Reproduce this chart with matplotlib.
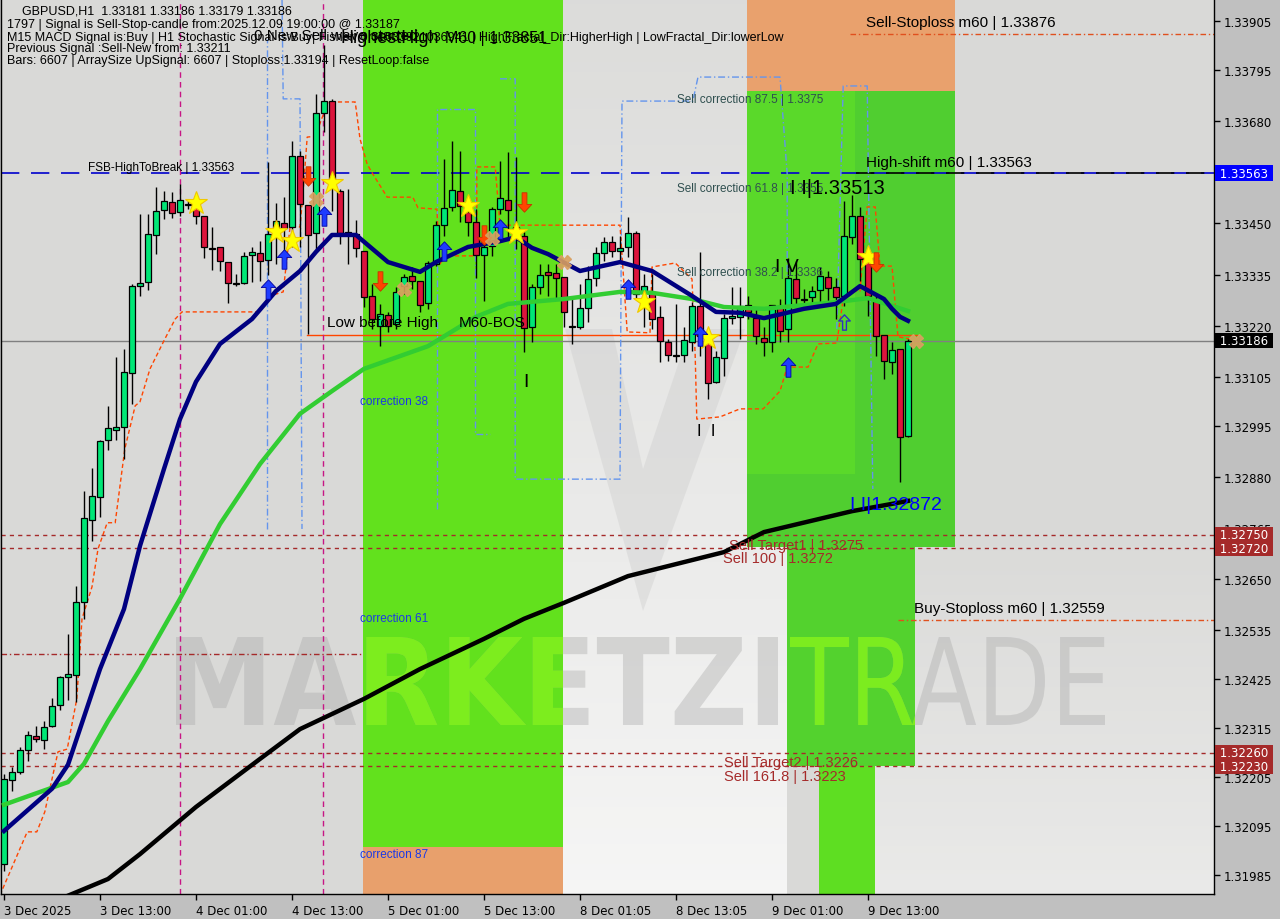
import matplotlib
matplotlib.use("Agg")
import matplotlib.pyplot as plt
import matplotlib.transforms as mtransforms
import numpy as np
from matplotlib.patches import Rectangle, PathPatch, Polygon
from matplotlib.path import Path
from matplotlib.textpath import TextPath
from matplotlib.font_manager import FontProperties

# ---------------- data (GBPUSD H1) ----------------
opens = [
    1.32010, 1.32199, 1.32217, 1.32266, 1.32298, 1.32289, 1.32320, 1.32367, 1.32430, 1.32435,
    1.32599, 1.32783, 1.32835, 1.32963, 1.32986, 1.32992, 1.33114, 1.33309, 1.33318, 1.33424,
    1.33480, 1.33498, 1.33476, 1.33494, 1.33487, 1.33467, 1.33395, 1.33397, 1.33363, 1.33314,
    1.33316, 1.33379, 1.33383, 1.33368, 1.33431, 1.33451, 1.33442, 1.33602, 1.33491, 1.33428,
    1.33698, 1.33725, 1.33523, 1.33431, 1.33426, 1.33388, 1.33287, 1.33219, 1.33244, 1.33224,
    1.33309, 1.33332, 1.33321, 1.33271, 1.33359, 1.33446, 1.33487, 1.33523, 1.33476, 1.33453,
    1.33379, 1.33399, 1.33482, 1.33503, 1.33442, 1.33422, 1.33217, 1.33307, 1.33341, 1.33338,
    1.33330, 1.33217, 1.33217, 1.33260, 1.33327, 1.33383, 1.33408, 1.33388, 1.33397, 1.33428,
    1.33298, 1.33294, 1.33240, 1.33183, 1.33152, 1.33154, 1.33183, 1.33264, 1.33190, 1.33094,
    1.33147, 1.33237, 1.33240, 1.33267, 1.33237, 1.33192, 1.33183, 1.33264, 1.33213, 1.33325,
    1.33278, 1.33285, 1.33300, 1.33330, 1.33307, 1.33287, 1.33419, 1.33467, 1.33370, 1.33276,
    1.33199, 1.33138, 1.33168, 1.32972]
highs = [
    1.32212, 1.32228, 1.32273, 1.32309, 1.32320, 1.32331, 1.32383, 1.32433, 1.32527, 1.32635,
    1.32848, 1.32900, 1.32963, 1.33040, 1.33150, 1.33168, 1.33314, 1.33471, 1.33471, 1.33532,
    1.33523, 1.33521, 1.33539, 1.33500, 1.33500, 1.33467, 1.33442, 1.33397, 1.33363, 1.33336,
    1.33386, 1.33397, 1.33410, 1.33588, 1.33496, 1.33509, 1.33635, 1.33613, 1.33491, 1.33741,
    1.33851, 1.33730, 1.33527, 1.33527, 1.33458, 1.33388, 1.33314, 1.33269, 1.33251, 1.33307,
    1.33336, 1.33352, 1.33321, 1.33365, 1.33455, 1.33595, 1.33635, 1.33613, 1.33498, 1.33482,
    1.33415, 1.33487, 1.33590, 1.33610, 1.33600, 1.33431, 1.33314, 1.33359, 1.33359, 1.33359,
    1.33330, 1.33280, 1.33314, 1.33354, 1.33397, 1.33419, 1.33422, 1.33422, 1.33464, 1.33433,
    1.33336, 1.33336, 1.33264, 1.33190, 1.33269, 1.33217, 1.33273, 1.33386, 1.33206, 1.33163,
    1.33246, 1.33307, 1.33307, 1.33287, 1.33258, 1.33217, 1.33267, 1.33280, 1.33372, 1.33365,
    1.33303, 1.33309, 1.33352, 1.33343, 1.33327, 1.33500, 1.33513, 1.33487, 1.33377, 1.33287,
    1.33199, 1.33183, 1.33168, 1.33190]
lows = [
    1.31994, 1.32174, 1.32212, 1.32242, 1.32284, 1.32268, 1.32318, 1.32356, 1.32379, 1.32374,
    1.32561, 1.32736, 1.32790, 1.32941, 1.32963, 1.32920, 1.33044, 1.33287, 1.33300, 1.33381,
    1.33460, 1.33462, 1.33467, 1.33482, 1.33449, 1.33372, 1.33345, 1.33343, 1.33271, 1.33309,
    1.33314, 1.33318, 1.33321, 1.33334, 1.33359, 1.33386, 1.33397, 1.33397, 1.33201, 1.33392,
    1.33656, 1.33478, 1.33404, 1.33359, 1.33374, 1.33262, 1.33213, 1.33174, 1.33206, 1.33213,
    1.33291, 1.33303, 1.33251, 1.33258, 1.33354, 1.33422, 1.33478, 1.33453, 1.33422, 1.33327,
    1.33276, 1.33377, 1.33471, 1.33415, 1.33392, 1.33161, 1.33183, 1.33291, 1.33287, 1.33280,
    1.33217, 1.33179, 1.33213, 1.33228, 1.33309, 1.33365, 1.33374, 1.33365, 1.33374, 1.33280,
    1.33217, 1.33213, 1.33138, 1.33141, 1.33138, 1.33138, 1.33163, 1.33152, 1.33055, 1.33091,
    1.33107, 1.33224, 1.33190, 1.33235, 1.33179, 1.33152, 1.33161, 1.33183, 1.33183, 1.33264,
    1.33264, 1.33264, 1.33264, 1.33264, 1.33235, 1.33264, 1.33404, 1.33321, 1.33242, 1.33152,
    1.33100, 1.33112, 1.32869, 1.32970]
closes = [
    1.32201, 1.32217, 1.32266, 1.32300, 1.32291, 1.32318, 1.32365, 1.32430, 1.32437, 1.32599,
    1.32788, 1.32837, 1.32961, 1.32990, 1.32992, 1.33116, 1.33309, 1.33316, 1.33426, 1.33478,
    1.33500, 1.33473, 1.33503, 1.33491, 1.33467, 1.33397, 1.33392, 1.33365, 1.33316, 1.33316,
    1.33377, 1.33386, 1.33365, 1.33426, 1.33455, 1.33440, 1.33602, 1.33494, 1.33424, 1.33698,
    1.33725, 1.33550, 1.33428, 1.33424, 1.33395, 1.33285, 1.33235, 1.33246, 1.33219, 1.33296,
    1.33330, 1.33321, 1.33267, 1.33361, 1.33446, 1.33485, 1.33525, 1.33489, 1.33453, 1.33379,
    1.33397, 1.33482, 1.33507, 1.33480, 1.33424, 1.33215, 1.33307, 1.33334, 1.33334, 1.33327,
    1.33251, 1.33219, 1.33260, 1.33325, 1.33383, 1.33408, 1.33388, 1.33395, 1.33428, 1.33291,
    1.33309, 1.33235, 1.33186, 1.33154, 1.33154, 1.33188, 1.33264, 1.33197, 1.33091, 1.33150,
    1.33237, 1.33242, 1.33264, 1.33251, 1.33197, 1.33183, 1.33267, 1.33208, 1.33327, 1.33282,
    1.33280, 1.33298, 1.33332, 1.33305, 1.33285, 1.33422, 1.33467, 1.33370, 1.33287, 1.33197,
    1.33141, 1.33165, 1.32970, 1.33186]

x_ticks = [0, 12, 24, 36, 48, 60, 72, 84, 96, 108]
x_labels = ["3 Dec 2025", "3 Dec 13:00", "4 Dec 01:00", "4 Dec 13:00", "5 Dec 01:00",
            "5 Dec 13:00", "8 Dec 01:05", "8 Dec 13:05", "9 Dec 01:00", "9 Dec 13:00"]
y_ticks = [1.33905, 1.33795, 1.33680, 1.33450, 1.33335, 1.33220, 1.33105, 1.32995, 1.32880,
           1.32765, 1.32650, 1.32535, 1.32425, 1.32315, 1.32205, 1.32095, 1.31985]

# moving averages (bar index, price)
fast_ma_x = [0, 6, 8, 12, 15, 17, 20, 22, 24, 27, 31, 34, 37, 39, 41, 44, 48, 52, 54, 58, 62,
             64, 66, 68, 72, 77, 81, 86, 89, 92, 95, 100, 104, 107, 110, 111, 112, 113]
fast_ma = [1.32084, 1.32179, 1.32233, 1.32448, 1.32583, 1.32725, 1.32898, 1.33010, 1.33094,
           1.33179, 1.33235, 1.33298, 1.33343, 1.33386, 1.33424, 1.33424, 1.33363, 1.33341,
           1.33363, 1.33397, 1.33410, 1.33419, 1.33395, 1.33381, 1.33343, 1.33363, 1.33343,
           1.33287, 1.33251, 1.33249, 1.33237, 1.33258, 1.33269, 1.33309, 1.33280, 1.33258,
           1.33240, 1.33231]
mid_ma_x = [0, 8, 10, 13, 17, 22, 27, 32, 37, 41, 45, 53, 59, 63, 70, 77, 81, 86, 90, 95,
            104, 108, 113]
mid_ma = [1.32143, 1.32194, 1.32235, 1.32331, 1.32448, 1.32606, 1.32774, 1.32909, 1.33022,
          1.33073, 1.33123, 1.33174, 1.33240, 1.33269, 1.33280, 1.33296, 1.33294, 1.33280,
          1.33262, 1.33258, 1.33273, 1.33282, 1.33253]
slow_ma_x = [7, 13, 17, 24, 32, 37, 45, 52, 60, 65, 70, 78, 90, 95, 106, 113]
slow_ma = [1.31931, 1.31976, 1.32032, 1.32138, 1.32246, 1.32313, 1.32381, 1.32448, 1.32516,
           1.32561, 1.32597, 1.32657, 1.32711, 1.32756, 1.32803, 1.32826]

# stepped trailing line
trail_x = [-0.5, 0.75, 2.9, 4.1, 5.1, 6.75, 7.9, 9.1, 9.75, 11, 11.75, 12.9, 13.9, 15.1, 16.4,
           17, 18.25, 20.1, 21.4, 22.25, 32, 32.4, 33.6, 34.9, 35.4, 35.75, 37, 37.4, 37.9,
           38.9, 40.5, 43.9, 44.5, 45.4, 46.1, 47.9, 51.1, 51.75, 54.1, 54.5, 55.1, 59.1, 59.1,
           61.4, 62, 77, 77.9, 80.75, 81, 83.9, 86, 86.4, 86.6, 89.5, 92, 94.9, 97, 97.9,
           100.5, 101.75, 104.1, 104.9, 105.75, 107, 107.9, 108.9, 109.5, 111, 111.75, 113.25]
trail = [1.31940, 1.31992, 1.32082, 1.32082, 1.32127, 1.32262, 1.32268, 1.32381, 1.32561,
         1.32633, 1.32718, 1.32777, 1.32777, 1.32943, 1.33040, 1.33049, 1.33123, 1.33190,
         1.33235, 1.33251, 1.33251, 1.33264, 1.33289, 1.33296, 1.33377, 1.33442, 1.33442,
         1.33523, 1.33644, 1.33646, 1.33723, 1.33723, 1.33640, 1.33583, 1.33561, 1.33509,
         1.33509, 1.33485, 1.33482, 1.33359, 1.33377, 1.33377, 1.33577, 1.33577, 1.33446,
         1.33446, 1.33206, 1.33204, 1.33352, 1.33361, 1.33325, 1.33152, 1.33010, 1.33015,
         1.33033, 1.33033, 1.33073, 1.33127, 1.33127, 1.33179, 1.33181, 1.33280, 1.33298,
         1.33298, 1.33487, 1.33487, 1.33354, 1.33354, 1.33195, 1.33190]

# fractal channel paths (dash-dot blue)
chan_x = [[32.9, 32.9],
          [34.75, 34.9, 37, 37.25],
          [54.1, 54.1, 58.9, 58.9, 60.75],
          [62, 63.9, 63.9, 77, 77.25, 86.1, 86.75, 97, 97.9, 97.9],
          [104.1, 104.9, 107.9, 108.6]]
chan_y = [[1.32763, 1.33865],
          [1.33960, 1.33730, 1.33730, 1.32763],
          [1.32808, 1.33707, 1.33707, 1.32977, 1.32977],
          [1.33775, 1.33775, 1.32875, 1.32875, 1.33725, 1.33725, 1.33779, 1.33779, 1.33561, 1.33280],
          [1.33213, 1.33759, 1.33759, 1.32853]]

# zones: x0, x1, low, high, colour
zone_x0 = [44.875, 44.875, 92.875, 92.875, 92.875, 97.875, 101.875]
zone_x1 = [69.875, 69.875, 118.875, 118.875, 106.375, 113.875, 108.875]
zone_lo = [1.32048, 1.3190, 1.32723, 1.33748, 1.32887, 1.32230, 1.3190]
zone_hi = [1.3400, 1.32048, 1.33748, 1.3400, 1.33748, 1.32723, 1.32230]
zone_col = ["#62E11D", "#E8A06C", "#50CE30", "#E9A16D", "#5AD92A", "#53D22E", "#5EDE22"]

# signal markers (bar index, price)
star_x = [24, 34, 36, 41, 58, 64, 80, 88, 108]
star_y = [1.33496, 1.33431, 1.33410, 1.33541, 1.33489, 1.33428, 1.33273, 1.33192, 1.33374]
up_x = [33, 35, 40, 55, 62, 78, 87, 98]
up_y = [1.33303, 1.33370, 1.33467, 1.33388, 1.33437, 1.33303, 1.33197, 1.33127]
down_x = [38, 47, 60, 65, 109]
down_y = [1.33557, 1.33321, 1.33424, 1.33498, 1.33363]
cross_x = [39, 50, 61, 70, 114]
cross_y = [1.33505, 1.33303, 1.33417, 1.33363, 1.33186]

bid = 1.33186
ymin, ymax = 1.319423, 1.339545

# ---------------- figure ----------------
fig = plt.figure(figsize=(12.8, 9.2), dpi=100, facecolor="#C0C0C0")
ax = fig.add_axes([1 / 1280, 25 / 920, 1213 / 1280, 895 / 920])
ax.set_facecolor("#D9D9D7")

# lighter areas of the background logo
grad = np.ones((200, 2, 4))
grad[:, :, 3] = np.linspace(0.08, 0.75, 200)[:, None]
ax.imshow(grad, extent=[69.875, 97.875, ymin, ymax], aspect="auto", zorder=0.3,
          interpolation="bilinear")
grad2 = np.ones((200, 2, 4))
grad2[:, :, 3] = np.linspace(0.05, 0.45, 200)[:, None]
ax.imshow(grad2, extent=[108.875, 151.25, ymin, 1.32723], aspect="auto", zorder=0.3,
          interpolation="bilinear")
# faint "V" of the logo, in pixel space
logo_v = [(565, 330), (612, 330), (643, 470), (690, 330), (745, 330), (643, 612)]
ax.add_patch(Polygon([(px, 920 - py) for px, py in logo_v], closed=True,
                     transform=mtransforms.IdentityTransform(), facecolor="#C8C8C8",
                     edgecolor="none", alpha=0.35, zorder=0.4))

for x0, x1, lo, hi, col in zip(zone_x0, zone_x1, zone_lo, zone_hi, zone_col):
    ax.add_patch(Rectangle((x0, lo), x1 - x0, hi - lo, facecolor=col, edgecolor="none", zorder=0.6))


# watermark text
def watermark(text, box, weight, color, alpha, clip=None):
    tp = TextPath((0, 0), text, size=100, prop=FontProperties(family="DejaVu Sans", weight=weight))
    ext = tp.get_extents()
    x0, y0, x1, y1 = box
    tr = mtransforms.Affine2D().translate(-ext.x0, -ext.y0).scale(
        (x1 - x0) / ext.width, (y1 - y0) / ext.height).translate(x0, 920 - y1)
    p = PathPatch(tp, transform=tr, facecolor=color, edgecolor="none", alpha=alpha, zorder=0.8)
    ax.add_patch(p)
    if clip is not None:
        p.set_clip_path(clip)


wm_boxes = [("MARKETZI", (176, 638, 778, 726), "bold"), ("TRADE", (790, 638, 1105, 726), "normal")]
for txt, box, w in wm_boxes:
    watermark(txt, box, w, "#A8A8A8", 0.38)
    for k in [0, 5, 6]:
        clip = Rectangle((zone_x0[k], zone_lo[k]), zone_x1[k] - zone_x0[k], zone_hi[k] - zone_lo[k],
                         transform=ax.transData)
        watermark(txt, box, w, "#7EF415", 0.85, clip)

# horizontal levels
ax.axhline(1.33563, color="#0000CD", lw=1.2, dashes=(11, 7), zorder=2)
ax.plot([106.5, 151.25], [1.33563, 1.33563], color="black", lw=1.2, dashes=(11, 7), zorder=2.1)
ax.axhline(bid, color="#808080", lw=1, zorder=2)
for lvl in [1.32750, 1.32720, 1.32260, 1.32230]:
    ax.axhline(lvl, color="#A52A2A", lw=1, dashes=(3, 3), zorder=2)
ax.plot([105.75, 151.25], [1.33876, 1.33876], color="#E0501E", lw=1, dashes=(4, 2, 1, 2), zorder=2)
ax.plot([111.75, 151.25], [1.32559, 1.32559], color="#E0501E", lw=1, dashes=(4, 2, 1, 2), zorder=2)
ax.plot([-0.4, 44.9], [1.32482, 1.32482], color="#A52A2A", lw=1, dashes=(4, 2, 1, 2), zorder=2)
ax.plot([37.9, 114.1], [1.33200, 1.33200], color="#FF4500", lw=1, zorder=2)

# vertical separators
for vx in [22, 39.9]:
    ax.axvline(vx, color="#C71585", lw=1, dashes=(4, 3), zorder=2)

# channel paths
for cx, cy in zip(chan_x, chan_y):
    ax.plot(cx, cy, color="#6495ED", lw=1, dashes=(5, 2, 1, 2), zorder=2.2)

ax.plot(trail_x, trail, color="#FF4500", lw=1, dashes=(3, 2), zorder=2.3)

# candles
for i in range(len(opens)):
    o, h, l, c = opens[i], highs[i], lows[i], closes[i]
    col = "#00E676" if c >= o else "#DC143C"
    ax.plot([i, i], [l, h], color="black", lw=1, zorder=4, solid_capstyle="butt")
    ax.add_patch(Rectangle((i - 0.33, min(o, c)), 0.66, max(abs(c - o), 0.00002),
                           facecolor=col, edgecolor="black", lw=0.9, zorder=5))

# moving averages
ax.plot(slow_ma_x, slow_ma, color="black", lw=3.2, zorder=6)
ax.plot(mid_ma_x, mid_ma, color="#32CD32", lw=3.2, zorder=6)
ax.plot(fast_ma_x, fast_ma, color="#000080", lw=3.2, zorder=6.1)

# markers
up_arrow = Path([(0, 1), (0.75, 0.2), (0.25, 0.2), (0.25, -1), (-0.25, -1), (-0.25, 0.2),
                 (-0.75, 0.2), (0, 1)],
                [Path.MOVETO] + [Path.LINETO] * 6 + [Path.CLOSEPOLY])
down_arrow = Path([(x, -y) for x, y in up_arrow.vertices], up_arrow.codes)
ax.plot(star_x, star_y, ls="none", marker="*", ms=17, mfc="#FFFF00", mec="#F0C800", mew=0.8, zorder=7)
ax.plot(up_x, up_y, ls="none", marker=up_arrow, ms=14, mfc="#1E3CFF", mec="#0000A0", mew=0.6, zorder=7)
ax.plot(down_x, down_y, ls="none", marker=down_arrow, ms=14, mfc="#FF4500", mec="#C83200", mew=0.6, zorder=7)
ax.plot(cross_x, cross_y, ls="none", marker="X", ms=10, mfc="#D9A060", mec="#D9A060", alpha=0.9, zorder=7)
ax.plot([105], [1.33228], ls="none", marker=up_arrow, ms=11, mfc="none", mec="#3030C0", mew=1, zorder=7)

# labels on the chart
SANS = "Liberation Sans"


def lab(x, y, s, size=11, color="black", **kw):
    ax.text(x, y, s, fontsize=size, color=color, family=SANS, va="center", ha="left", zorder=8, **kw)


lab(10.5, 1.33577, "FSB-HighToBreak | 1.33563", 8.5)
lab(107.75, 1.33588, "High-shift m60 | 1.33563", 11)
lab(107.75, 1.33903, "Sell-Stoploss m60 | 1.33876", 11)
lab(113.75, 1.32586, "Buy-Stoploss m60 | 1.32559", 11)
lab(84.1, 1.33730, "Sell correction 87.5 | 1.3375", 8.5, "#2F4F4F")
lab(84.1, 1.33530, "Sell correction 61.8 | 1.3355", 8.5, "#2F4F4F")
lab(84.1, 1.33341, "Sell correction 38.2 | 1.3336", 8.5, "#2F4F4F")
lab(98.25, 1.33530, "I I|1.33513", 14.5)
lab(96.4, 1.33354, "I V", 14)
lab(40.4, 1.33228, "Low before High", 11)
lab(56.9, 1.33228, "M60-BOS", 11)
lab(64.9, 1.33094, "I", 14)
lab(86.6, 1.32985, "I  I", 12)
lab(44.5, 1.33051, "correction 38", 8.5, "#1C39E6")
lab(44.5, 1.32563, "correction 61", 8.5, "#1C39E6")
lab(44.5, 1.32032, "correction 87", 8.5, "#1C39E6")
lab(105.75, 1.32818, "I I|1.32872", 14, "#0000FF")
lab(90.6, 1.32726, "Sell Target1 | 1.3275", 10.5, "#A52A2A")
lab(89.9, 1.32697, "Sell 100 | 1.3272", 10.5, "#A52A2A")
lab(90.0, 1.32240, "Sell Target2 | 1.3226", 10.5, "#A52A2A")
lab(90.0, 1.32208, "Sell 161.8 | 1.3223", 10.5, "#A52A2A")
lab(31.2, 1.33873, "0 New Sell wave started", 11)
lab(42.0, 1.33868, "HighestHigh", 13)
lab(55.1, 1.33868, "M60 | 1.33851", 11.5)

# info block
info = ["GBPUSD,H1  1.33181 1.33186 1.33179 1.33186",
        "1797 | Signal is Sell-Stop-candle from:2025.12.09 19:00:00 @ 1.33187",
        "M15 MACD Signal is:Buy | H1 Stochastic Signal is:Buy| Fisher: 0.01033921036941 | "
        "HighFractal_Dir:HigherHigh | LowFractal_Dir:lowerLow",
        "Previous Signal :Sell-New from: 1.33211",
        "Bars: 6607 | ArraySize UpSignal: 6607 | Stoploss:1.33194 | ResetLoop:false"]
info_y = [12, 25, 38, 49, 61]
info_x = [22, 7, 7, 7, 7]
for s, px, py in zip(info, info_x, info_y):
    fig.text(px / 1280, 1 - py / 920, s, fontsize=9, family=SANS, va="center", ha="left", zorder=9)

# axes
ax.set_xlim(-0.375, 151.25)
ax.set_ylim(ymin, ymax)
ax.set_xticks(x_ticks)
ax.set_xticklabels(x_labels)
for t in ax.get_xticklabels():
    t.set_horizontalalignment("left")
ax.set_yticks(y_ticks)
ax.set_yticklabels([f"{v:.5f}" for v in y_ticks])
ax.yaxis.tick_right()
ax.tick_params(axis="both", direction="out", length=4, width=1, colors="black", labelsize=8.5)
ax.tick_params(axis="x", pad=3)
ax.tick_params(axis="y", pad=3)
for side in ["left", "bottom", "right"]:
    ax.spines[side].set_color("black")
    ax.spines[side].set_linewidth(1)
ax.spines["top"].set_visible(False)

boxes = [(1.33563, "#0000FF"), (bid, "black"), (1.32750, "#A52A2A"), (1.32720, "#A52A2A"),
         (1.32260, "#A52A2A"), (1.32230, "#A52A2A")]
btr = mtransforms.blended_transform_factory(ax.transAxes, ax.transData)
for price, col in boxes:
    ax.text(1.0017, price, f" {price:.5f} ", transform=btr, fontsize=8.5, color="white",
            va="center", ha="left", clip_on=False, zorder=10,
            bbox=dict(boxstyle="square,pad=0.1", facecolor=col, edgecolor="none"))

fig.savefig("out.png", dpi=100, facecolor=fig.get_facecolor())
